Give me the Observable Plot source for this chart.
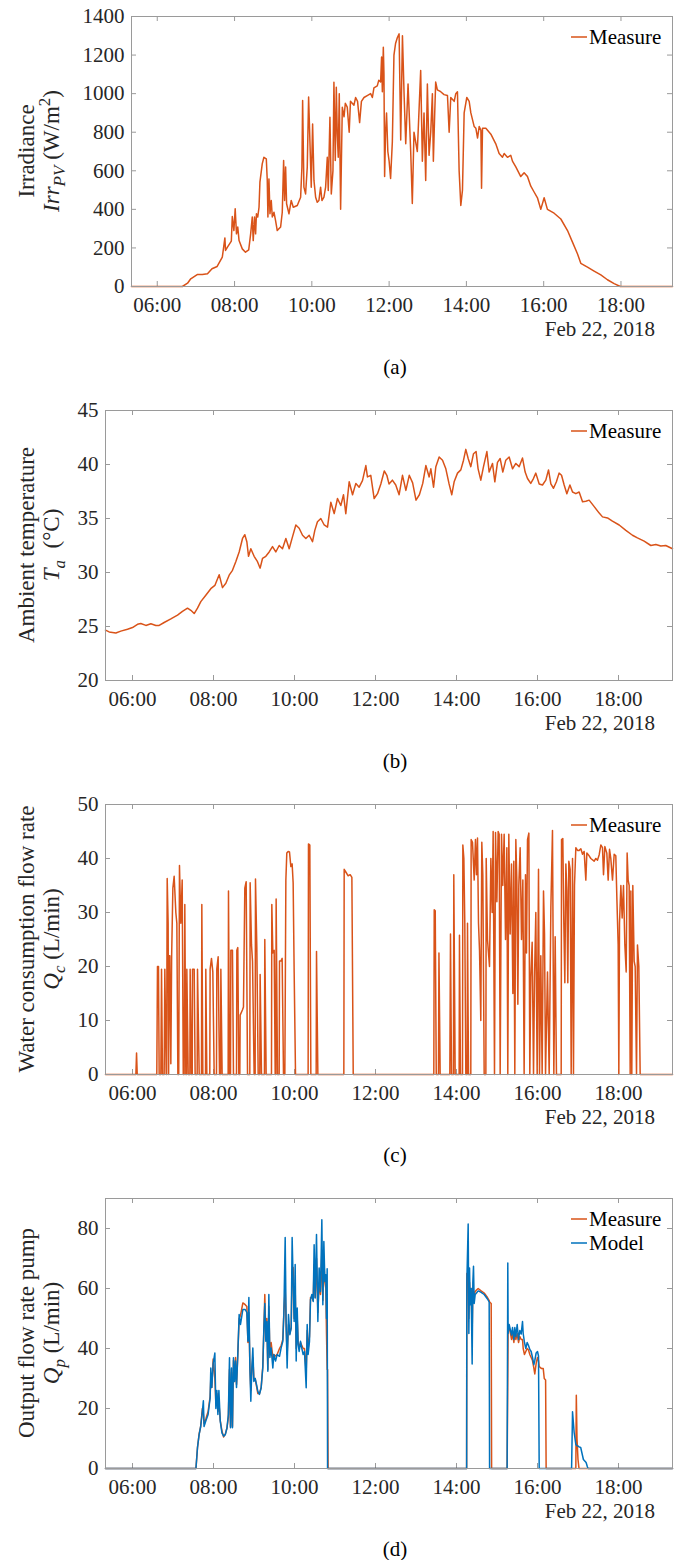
<!DOCTYPE html>
<html><head><meta charset="utf-8">
<script src="https://cdn.jsdelivr.net/npm/d3@7"></script>
<script src="https://cdn.jsdelivr.net/npm/@observablehq/plot@0.6"></script>
<style>
html,body{margin:0;padding:0;background:#fff;overflow:hidden;}
#chart{width:684px;}
#chart svg{display:block;font-family:'Liberation Serif','Times New Roman',serif !important;}
#chart svg text{font-family:'Liberation Serif','Times New Roman',serif;}
</style></head><body><div id="chart"></div>
<script>
// ---------- DATA (time in minutes after midnight, Feb 22, 2018) ----------
const dateLabel = "Feb 22, 2018";
const xTickMinutes = [360, 480, 600, 720, 840, 960, 1080];
const xDomainMinutes = [320, 1160];

// (a) Irradiance Irr_PV (W/m2)
const irrTime = [320,399,407,412,422,430,438,445,453,461,465,466,469,475,476.5,479,481,483,485,487,492,497,502,505,507.5,509,511,512.7,514,516,518,519.4,523,525.6,529.3,530.8,531.8,533.4,535,537,538.6,541.2,543.7,546.3,551.5,554.1,556.2,557.7,559.3,560.8,564.5,568,571.2,577.4,582.6,584.6,585.7,587.7,590.3,592.9,595,597,599.1,601.2,603.3,605.9,608.4,611,613.6,615.7,618.8,621.4,624,625.5,628.1,630.2,632.8,634.3,636.4,638,639.5,641,642.6,644.7,647.3,650,652,655,658,660,665.4,668,671,674.2,677,681,686,691.3,694,696.4,701.6,704,706.8,708.3,709.5,711,712,713,714.5,716,718,720,722.3,725,727.5,730,732.7,735.5,738,740.7,743.2,745.8,749.4,753.5,756,758.6,763.8,769,771.6,774.2,776.8,779.4,782,784.6,787.2,788.7,790.8,792.3,794.9,800.1,805.3,810.6,813.2,815.7,821,823.5,826.1,828.7,831.3,833.9,836.5,840.6,844.3,846.9,852,854.7,857.3,859.9,862.5,863.5,865,870.2,878,885.6,890.8,896,898.6,903.7,908.9,911.5,916.7,924.4,929.6,934.8,940,945.1,950.3,955.5,960.7,965.8,976.2,986.6,997,1004.7,1012.4,1017.6,1028,1038.3,1048.7,1059,1069.4,1079,1160];
const irrMeasure = [0,0,17,40,62,62,66,92,104,152,252,187,204,235,363,290,403,273,308,238,195,178,190,273,360,238,360,273,377,360,411,541,636,670,662,550,360,558,377,446,360,385,342,290,308,385,653,446,619,429,377,446,411,420,463,619,964,515,480,619,982,757,515,843,550,463,437,446,515,446,463,515,670,498,878,480,601,1059,653,1033,791,670,999,401,930,880,950,930,800,960,940,980,960,850,960,980,990,1000,980,1030,1040,1070,1060,1190,1010,1240,1100,570,800,900,700,650,560,750,1200,1260,1290,1310,760,1300,1000,740,1050,700,430,800,700,1120,650,900,550,1050,680,800,1000,650,900,1060,1020,1010,995,990,800,980,960,1000,1010,600,420,500,900,980,960,900,830,820,770,830,810,510,820,820,790,740,690,670,690,670,680,650,620,570,590,570,520,490,460,400,460,400,380,350,290,230,170,120,100,80,60,35,15,0,0];

// (b) Ambient temperature T_a (°C)
const tempTime = [320,325.4,335.3,342.7,352.6,360,367.4,372.3,379.8,387.2,394.6,399.5,406.9,416.8,426.7,434,441.5,446.4,451.4,456.3,461.2,468.6,476,482,488.4,493.3,498.3,503.2,508.1,513,518,523,526.4,529.4,531.9,535.3,540.2,545.2,549.1,552.6,557.5,562.5,567.4,572.3,577.3,582.2,587.2,592.1,597,602,606.9,611.9,616.8,621.7,626.7,630.1,634,639,644,648.9,653.8,658.8,663.7,668.6,672.6,676,681,686,690.9,695.8,700.7,705.7,708.1,713,718,723,727.9,733,736.8,740,745,750,755,760,765,770,775,780,785,790,794.6,799.5,802,806,809.4,814.3,819.3,824.2,829,833,836.5,841.5,846.4,850.4,853.8,857.3,861.2,865.2,869,872,876,880,885,888.4,893.3,896.8,900.7,904.7,908.6,913,918,923,927.9,932.8,937.8,941.7,945.2,950,954,957.5,962.5,967.4,972.3,976.3,979.8,983.7,988,992,995.6,999.5,1003.5,1008,1011.9,1016.8,1021.7,1026.7,1031.6,1036.5,1044,1051.4,1056.3,1063.7,1071,1081,1090.9,1100.7,1108,1118,1127.9,1135.3,1142.7,1150,1160];
const tempMeasure = [24.66,24.5,24.4,24.57,24.75,24.9,25.2,25.28,25.1,25.25,25.1,25.1,25.37,25.7,26.05,26.4,26.7,26.5,26.2,26.7,27.3,27.9,28.5,28.8,29.8,28.6,29.0,29.75,30.2,31.0,31.9,33.15,33.5,32.85,31.5,32.2,31.5,31.0,30.4,31.3,31.5,31.9,32.4,31.9,32.5,32.2,33.15,32.2,33.3,34.4,34.1,33.45,33.15,33.45,32.85,33.9,34.7,35.0,34.4,34.2,36.5,35.45,36.85,36.2,37.2,35.45,38.4,37.2,38.25,37.9,38.5,39.9,38.85,39.0,36.85,37.3,38.2,39.4,39.0,38.2,38.55,38.1,37.2,39.0,37.6,39.0,38.3,36.7,37.2,38.25,39.9,38.85,39.6,37.9,39.8,40.7,40.4,39.6,38.2,37.2,38.4,39.2,39.5,40.4,41.4,40.55,39.8,41.0,41.2,39.6,38.55,39.8,41.2,39.3,40.1,38.4,40.2,40.55,39.3,40.4,40.7,39.6,40.1,39.8,40.6,39.3,38.7,38.25,38.7,39.2,38.2,38.1,38.55,39.5,38.2,37.8,38.4,39.2,39.0,38.1,37.3,38.1,37.45,37.3,37.45,36.55,36.6,36.7,36.1,35.5,35.15,35.05,34.75,34.4,33.9,33.45,33.2,32.9,32.5,32.6,32.45,32.5,32.2];

// (c) Water consumption flow rate Q_c (L/min)
const qcTime = [320,365,366,367,396,397,398.5,399.5,402,403,404.4,406.9,407.9,409.9,410.5,411.4,412.8,413.5,414.5,415.3,416.8,418,419.8,421.7,424.2,425.7,427.2,428.5,429.6,431.6,433.6,435.2,436.5,437.5,439,440,440.5,442.5,445,445.4,447.4,448.5,448.9,451.4,452.8,455.8,456.3,458.8,462.2,462.7,464.2,468.2,468.6,470.1,474.5,475,477,479,481,484.4,484.9,486.9,488.9,490.4,490.9,492.8,501.7,502.2,503.7,505.2,505.7,508.1,509.6,514.1,514.6,516,517.5,519,519.5,523,524.4,526.4,528.4,530.4,533.8,534.3,536.3,537.8,540.2,541.7,542.2,544.2,546.2,548.6,549.1,551.1,555.5,556,558,565.9,566.4,567.9,569.9,571.4,572.3,572.8,574.8,577.3,577.8,579.8,581.7,583.7,585.7,587.2,588.6,590.6,592.6,594.6,596.5,598,599.5,601.5,620.2,620.7,622.7,624.2,632.1,632.6,634.6,673.1,673.6,676,679.5,682.5,685,687,806.4,807,808.5,810,813.3,814,815.8,830.1,831.1,832.6,835.5,836,838,843.9,844.4,845.9,848.9,849.4,850.9,852.3,853.8,855.8,856.3,857.8,861.2,861.7,863.7,866.2,868.1,869.6,871.1,872.6,874.1,876,877.5,879,881,883.5,884,885.9,888.9,890.9,892.8,894.3,896.3,897.8,899.8,901.7,903.2,904.7,906.7,908.6,910.6,912.6,914.6,916,917.5,919.5,921.5,923.5,924.9,926.4,927.9,929.4,930.9,932.3,934.3,936.3,938.3,940.2,942.2,943.7,945.2,947.2,948.6,950.1,952.1,954.1,955.6,957.5,959.5,961.5,963,964.9,966.9,968.9,970.4,971.9,974.8,977.3,979.8,982.2,984.2,986.2,988.1,995.1,995.6,997.5,999,1000.5,1002,1003.5,1004.9,1006.4,1008.4,1009.9,1011.9,1013.3,1014.8,1016.8,1019.3,1021.7,1024.2,1026.7,1029.1,1031.6,1033.1,1036.5,1039,1043.9,1046.4,1048.9,1051.4,1053.8,1056.3,1057.8,1059.8,1062.7,1064.7,1066.7,1068.6,1071.1,1073.6,1076,1077.5,1079.5,1080.5,1081.5,1083.5,1085.4,1087.4,1089.4,1091.4,1092.8,1094.3,1095.8,1097.3,1098.3,1099.7,1101.2,1103.2,1104.7,1106.7,1108.1,1110.1,1112.1,1160];
const qcMeasure = [0,0,4,0,0,20,20,0,0,19.5,0,0,19.5,0,0,36.3,28,0,22,22,2,22,34.5,36.7,30,28,0,0,38.7,28,36,0,0,31.5,0,0,19.5,0,0,19.5,0,0,19.5,19.5,0,0,19.5,0,0,31.5,0,0,19.5,0,0,19.5,21.5,19,0,0,19.5,21.8,0,0,19.5,0,0,34,0,0,23,23,0,0,23,23.5,0,0,11,12,12.5,34.5,35.7,0,0,35.5,24,21,0,0,36.2,23.5,0,0,18.5,0,0,25,0,0,31.5,22.5,23,0,0,32.5,0,0,21,21,21.5,0,0,36,41,41.3,41.2,38.5,39,35.5,19,0,0,42.7,42.5,0,0,22.8,0,0,38,37.5,36.8,37,36.5,0,0,30.5,30.3,0,0,22.5,0,0,26,0,0,37,0,0,25.8,0,0,42.5,40,28,0,0,28,0,0,43.5,43,36,43.5,37,43.8,28,23,10,43,37,0,0,40,25,20,40,30,45,0,44.8,32,45,44.5,0,44.5,35,44.5,25,42,0,44.5,26,39,15,39.5,0,43.5,36,13,35,42,25,36,0,37,22.5,43.5,44.7,0,18,24.5,0,18,30,0,38,0,22,0,34,26,0,19,0,31,45.2,0,25.5,0,0,43.5,43.7,28,17,39,34,17,39.5,38,0,40,0,35,42,41.5,41.5,41.8,40.8,41.3,36,41,40.5,40,39.5,40,39.7,40.7,42.5,42,37,42.2,41,36,41.7,40,36,40.8,40.5,33,24,0,28,35,29,35,24,19,41,36,35,0,34,0,35,21,20,0,24,20,0,0];

// (d) Output flow rate pump Q_p (L/min)
const qpTime = [320,454,456.3,458.7,461,463.5,465,466,468.6,472,475,476,477.5,479.5,482,483.5,485,486.5,488,490,492.5,495,497.5,500,502,503.7,505.2,506.7,508.1,509.6,511.1,512.6,514.1,516,518,520,523.5,527,529.4,531,532.4,533.9,535.3,536.8,538.3,539.8,541.7,543.7,545.7,548.1,550.6,553,554.6,556,557.5,559,560.5,562,563.5,565.4,567.9,569.4,571.9,574.3,577.8,580.2,582.7,584.2,586.2,587.7,589.1,591.1,593.1,595.1,596.5,598,599.5,601,602.5,604,605.4,606.9,608.9,610.9,612.8,614.8,617.3,618.8,620.2,622.2,623.7,625.7,627.7,629.1,630.6,632.6,634.6,636.5,638.5,640.5,642,643.5,645,646.4,647.4,648.4,649,649.8,855,855.3,857.3,858.3,859.3,860.3,861.7,863.2,864.2,865.2,866.2,867.7,869.6,872.1,876,881,885.9,888.4,889,891.4,892,915,916,916.5,918,920,921.5,923,925,926.4,927.9,929.9,931.9,933.8,935.8,937.8,938.8,940.7,942.7,944.7,946.7,948.6,950.6,952.6,954.6,956,958,960,961.5,962.5,966,968.5,970,972,972.8,1010.5,1011.9,1014.3,1016.8,1017.5,1018.5,1020,1021.5,1024,1026,1028,1030,1032,1034,1035,1160];
const qpModel = [0,0,7,11.3,14,19,22.6,14,15.8,18,23.5,33.5,27,35,38.5,20,26,18,26,15.8,11.9,10.8,11.3,13.6,18,36.9,13.6,33.5,13.6,36.9,29,35.8,27,38,51.3,48,53,53,52,42.4,57,33.5,22.4,33.5,40.2,29,30,28,25.7,24.7,26.9,33.5,46.8,55,42.4,49,32.4,58,37,40.2,33.5,38,35.8,38,37.4,40.2,42.4,51.3,77,46.8,33.5,51.3,44.6,46.8,77,62.3,49,68,35.8,53.5,41.3,39,42.4,40,38,39,26.9,48,38,42.4,56.3,58,55.7,74.6,56.8,78,49,66.8,59,82.9,54.6,75.7,62.3,64.6,50,66.6,0,0,0,62,81.5,45,66.8,54.6,60,34.8,62,67.4,55,58,58.5,59.2,58.8,58,56.5,55.5,0,0,0,0,68.5,45,48,46,44.5,47,43,47,44,48,43,46,44.8,49,45,42,40,42,41,39.7,39,37,34.6,36,38.5,39,37.5,0,0,0,0,0,0,0,18.9,12,8,7.8,7.6,7.5,7.2,7,5,3,2.5,2,0.5,0,0];
const qpMeasure = [0,0,7,11.5,14,20,18,15,16.5,19,24,30,27,36.5,30,22,25,19,22,16,12.5,10.5,11.5,13.5,17,33,14,32,14,36,29,37,28,38,50,51,55.2,54.6,54,42,52,34,26,33,37,30,30,27.5,25,25,27,34,46,58,44,50,33,54,38,42,37,38,37.5,38,40,41,43,52,60,47,38,48,45,47,66,67,50,60,40,50,42,40,42,41,40,40,32,46,40,44,57,57,56,68,57,70,52,62,58,72,56,70,62,60,45,33,33,0,0,65,64,50,62,56,60,45,60,59,58,59,59.5,60,59.3,58.5,57,56,55.5,55,0,0,30,48,47,45,43,45,42,45,43,45,42,44,43,43,40,38,39,40,39.5,38,37,36,33.5,31.5,35,37,36,34,33.3,33.3,30,29.5,0,0,0,0,0,24.4,10,3,0,0,0,0,0,0,0,0,0];

// Panel texts
const panelTags = ["(a)", "(b)", "(c)", "(d)"];
const yLabel1 = ["Irradiance", "Ambient temperature", "Water consumption flow rate", "Output flow rate pump"];
const legendNames = ["Measure", "Model"];

// ---------- STYLE ----------
const cMeasure = "#D95319", cModel = "#0072BD";
const frameColor = "#9a9a9a";
const textColor = "#262626";
const FONT = "'Liberation Serif','Times New Roman',serif";

const base = new Date(2018, 1, 22).getTime();
const toDate = m => new Date(base + m * 60000);
const xTicks = xTickMinutes.map(toDate);
const fmt = d3.timeFormat("%H:%M");

function makePanel(cfg) {
  const W = 684, H = cfg.height, mt = 16, mr = 12, ml = cfg.marginLeft;
  const fh = 270, mb = H - mt - fh, fw = W - ml - mr;
  const lines = cfg.series.map(s => Plot.line(
    s.time.map((t, i) => ({t: toDate(t), v: s.value[i]})),
    {x: "t", y: "v", stroke: s.color, strokeWidth: 1.5}));
  const svg = Plot.plot({
    width: W, height: H, marginTop: mt, marginBottom: mb, marginLeft: ml, marginRight: mr,
    style: {fontFamily: FONT, fontSize: "21px", color: textColor, background: "#fff", overflow: "visible"},
    x: {type: "time", domain: xDomainMinutes.map(toDate), label: null},
    y: {domain: cfg.yDomain, label: null},
    marks: [
      Plot.tickX(xTicks, {x: d => d, insetTop: fh - 5, stroke: frameColor}),
      Plot.tickX(xTicks, {x: d => d, insetBottom: fh - 5, stroke: frameColor}),
      Plot.tickY(cfg.yTicks, {y: d => d, insetRight: fw - 5, stroke: frameColor}),
      Plot.tickY(cfg.yTicks, {y: d => d, insetLeft: fw - 5, stroke: frameColor}),
      ...lines,
      Plot.frame({stroke: frameColor, strokeWidth: 1}),
      Plot.axisX(xTicks, {tickSize: 0, tickPadding: 11, tickFormat: fmt, label: null, fontSize: 21}),
      Plot.axisY(cfg.yTicks, {tickSize: 0, tickPadding: 7, tickFormat: d3.format("d"), label: null, fontSize: 21})
    ]
  });
  const sel = d3.select(svg).attr("font-family", FONT).attr("font-size", 21);
  sel.selectAll("text").attr("font-family", FONT);
  const cy = mt + fh / 2;
  // y-axis title (two lines, rotated)
  const g = sel.append("g").attr("font-family", FONT).attr("font-size", 23).attr("fill", textColor);
  g.append("text").attr("transform", `translate(${34},${cy}) rotate(-90)`)
    .attr("text-anchor", "middle").text(cfg.label1);
  const t2 = g.append("text").attr("transform", `translate(${59},${cy}) rotate(-90)`)
    .attr("text-anchor", "middle");
  let shift = 0;
  for (const p of cfg.label2) {
    const target = p.sub ? 6 : p.sup ? -9 : 0;
    const ts = t2.append("tspan").attr("dy", target - shift).text(p.text);
    if (p.italic) ts.attr("font-style", "italic");
    if (p.sub || p.sup) ts.attr("font-size", 17);
    shift = target;
  }
  // legend
  const lg = sel.append("g").attr("font-family", FONT).attr("font-size", 21).attr("fill", "#000")
    .attr("text-anchor", "start");
  cfg.series.forEach((s, i) => {
    const ly = mt + 21 + i * 24;
    lg.append("line").attr("x1", 571).attr("x2", 587).attr("y1", ly).attr("y2", ly)
      .attr("stroke", s.color).attr("stroke-width", 1.5);
    lg.append("text").attr("x", 589).attr("y", ly + 7).attr("text-anchor", "start").text(s.name);
  });
  // date label and panel tag
  const by = mt + fh;
  sel.append("text").attr("x", 655).attr("y", by + 50).attr("text-anchor", "end")
    .attr("font-family", FONT).attr("font-size", 21).attr("fill", textColor).text(dateLabel);
  sel.append("text").attr("x", 395).attr("y", by + 88).attr("text-anchor", "middle")
    .attr("font-family", FONT).attr("font-size", 21).attr("fill", "#000").text(cfg.tag);
  return svg;
}

const panels = [
  {height: 394, marginLeft: 131, yDomain: [0, 1400], yTicks: [0,200,400,600,800,1000,1200,1400],
   label1: yLabel1[0],
   label2: [{text: "Irr", italic: true}, {text: "PV", italic: true, sub: true}, {text: " (W/m"}, {text: "2", sup: true}, {text: ")"}],
   series: [{name: legendNames[0], time: irrTime, value: irrMeasure, color: cMeasure}], tag: panelTags[0]},
  {height: 394, marginLeft: 105, yDomain: [20, 45], yTicks: [20,25,30,35,40,45],
   label1: yLabel1[1],
   label2: [{text: "T", italic: true}, {text: "a", italic: true, sub: true}, {text: "  (°C)"}],
   series: [{name: legendNames[0], time: tempTime, value: tempMeasure, color: cMeasure}], tag: panelTags[1]},
  {height: 394, marginLeft: 105, yDomain: [0, 50], yTicks: [0,10,20,30,40,50],
   label1: yLabel1[2],
   label2: [{text: "Q", italic: true}, {text: "c", italic: true, sub: true}, {text: " (L/min)"}],
   series: [{name: legendNames[0], time: qcTime, value: qcMeasure, color: cMeasure}], tag: panelTags[2]},
  {height: 378, marginLeft: 105, yDomain: [0, 90], yTicks: [0,20,40,60,80],
   label1: yLabel1[3],
   label2: [{text: "Q", italic: true}, {text: "p", italic: true, sub: true}, {text: " (L/min)"}],
   series: [{name: legendNames[0], time: qpTime, value: qpMeasure, color: cMeasure},
            {name: legendNames[1], time: qpTime, value: qpModel, color: cModel}], tag: panelTags[3]}
];

const root = document.getElementById("chart");
for (const p of panels) root.appendChild(makePanel(p));
</script>
</body></html>
